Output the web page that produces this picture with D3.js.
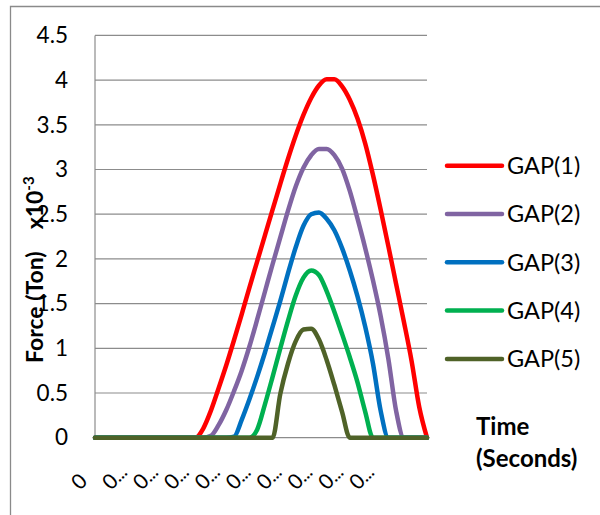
<!DOCTYPE html>
<html>
<head>
<meta charset="utf-8">
<script src="https://cdn.jsdelivr.net/npm/d3@7"></script>
<style>
  html, body { margin: 0; padding: 0; background: #fff; }
  svg { display: block; font-family: Lato, "Open Sans", sans-serif; }
</style>
</head>
<body>
<svg id="chart" width="600" height="515"></svg>
<script>
// Category labels along the time axis (shown every 4th sample)
const timeLabels = ["0", "0…", "0…", "0…", "0…", "0…", "0…", "0…", "0…", "0…"];
const labelStep = 4;

// Force readings (x10^-3 Ton) per time sample, one array per gap setting
const gap1 = [0,0,0,0,0,0,0,0,0,0,0,0,0,0,
  0.10,0.30,0.55,0.81,1.09,1.38,1.68,1.97,2.26,2.55,2.84,3.12,3.38,3.61,3.80,3.94,
  4.01,4.01,3.93,3.78,3.57,3.29,2.94,2.55,2.14,1.72,1.30,0.86,0.34,0];
const gap2 = [0,0,0,0,0,0,0,0,0,0,0,0,0,0,0,
  0.02,0.14,0.31,0.52,0.75,1.02,1.32,1.63,1.94,2.24,2.54,2.81,3.02,3.16,3.23,
  3.23,3.16,3.01,2.76,2.45,2.12,1.76,1.36,0.88,0.30,0,0,0,0];
const gap3 = [0,0,0,0,0,0,0,0,0,0,0,0,0,0,0,0,0,0,
  0.01,0.20,0.43,0.68,0.95,1.24,1.53,1.84,2.13,2.37,2.50,2.52,
  2.45,2.32,2.12,1.87,1.58,1.24,0.83,0.30,0,0,0,0,0,0];
const gap4 = [0,0,0,0,0,0,0,0,0,0,0,0,0,0,0,0,0,0,0,0,0,
  0.09,0.37,0.68,1.00,1.31,1.59,1.79,1.87,1.82,1.64,1.41,1.16,0.90,0.62,0.29,
  0,0,0,0,0,0,0,0];
const gap5 = [0,0,0,0,0,0,0,0,0,0,0,0,0,0,0,0,0,0,0,0,0,0,0,0,
  0.49,0.83,1.08,1.21,1.22,1.10,0.87,0.59,0.29,
  0,0,0,0,0,0,0,0,0,0,0];

const seriesNames = ["GAP(1)", "GAP(2)", "GAP(3)", "GAP(4)", "GAP(5)"];
const seriesColors = ["#ff0000", "#8064a2", "#0070c0", "#00b050", "#4f6228"];
const yTicks = [0, 0.5, 1, 1.5, 2, 2.5, 3, 3.5, 4, 4.5];

const series = [gap1, gap2, gap3, gap4, gap5].map((values, i) => ({
  name: seriesNames[i], color: seriesColors[i], values
}));

const svg = d3.select("#chart");

// chart frame
svg.append("path")
  .attr("d", "M10.5,520 V6.5 H610")
  .attr("fill", "none")
  .attr("stroke", "#8a8a8a")
  .attr("stroke-width", 1.3);

const plot = { left: 95, right: 427, top: 35.4, bottom: 437.7 };

const nPoints = gap1.length;
const x = d3.scaleLinear().domain([0, nPoints - 1]).range([plot.left, plot.right]);
const y = d3.scaleLinear().domain([0, 4.5]).range([plot.bottom, plot.top]);

// horizontal gridlines
svg.append("g")
  .selectAll("line")
  .data(yTicks)
  .join("line")
  .attr("x1", plot.left).attr("x2", plot.right)
  .attr("y1", d => y(d)).attr("y2", d => y(d))
  .attr("stroke", "#8c8c8c")
  .attr("stroke-width", 1.2);

// value axis line
svg.append("line")
  .attr("x1", plot.left).attr("x2", plot.left)
  .attr("y1", y(4.5)).attr("y2", y(0))
  .attr("stroke", "#8c8c8c")
  .attr("stroke-width", 1.2);

// value axis labels
const yAxis = d3.axisLeft(y).tickValues(yTicks).tickSize(0).tickPadding(27)
  .tickFormat(d3.format("~g"));
const yg = svg.append("g").attr("transform", `translate(${plot.left},0)`).call(yAxis);
yg.select(".domain").remove();
yg.selectAll("text")
  .attr("font-family", "Lato, 'Open Sans', sans-serif")
  .attr("font-size", 22.5)
  .attr("fill", "#000");

// category labels, rotated; the truncation mark is set smaller than the digit
const labelIdx = timeLabels.map((_, i) => i * labelStep);
const xLabels = svg.append("g")
  .selectAll("text")
  .data(labelIdx)
  .join("text")
  .attr("transform", d => `translate(${x(d) - 15},491) rotate(-45)`)
  .attr("text-anchor", "start")
  .attr("font-family", "Lato, 'Open Sans', sans-serif")
  .attr("font-size", 21)
  .attr("fill", "#000");
xLabels.append("tspan").text((d, i) => timeLabels[i].slice(0, 1));
xLabels.append("tspan")
  .attr("font-size", 16)
  .attr("font-weight", "bold")
  .text((d, i) => timeLabels[i].slice(1));

// series lines
const line = d3.line()
  .x((d, i) => x(i))
  .y(d => y(d))
  .curve(d3.curveMonotoneX);

svg.append("g")
  .selectAll("path")
  .data(series)
  .join("path")
  .attr("d", d => line(d.values))
  .attr("fill", "none")
  .attr("stroke", d => d.color)
  .attr("stroke-width", 4.5)
  .attr("stroke-linejoin", "round")
  .attr("stroke-linecap", "round");

// legend
const legend = svg.append("g")
  .selectAll("g")
  .data(series)
  .join("g")
  .attr("transform", (d, i) => `translate(447,${165.7 + i * 48.3})`);
legend.append("line")
  .attr("x1", 0).attr("x2", 55)
  .attr("stroke", d => d.color)
  .attr("stroke-width", 4.5)
  .attr("stroke-linecap", "round");
legend.append("text")
  .attr("x", 60)
  .attr("dy", "0.36em")
  .attr("font-size", 23.5)
  .attr("fill", "#000")
  .text(d => d.name);

// value axis title
const yTitle = svg.append("text")
  .attr("transform", "translate(43,363) rotate(-90)")
  .attr("font-size", 23)
  .attr("font-weight", "bold")
  .attr("fill", "#000");
yTitle.append("tspan").text("Force (Ton)");
yTitle.append("tspan").attr("dx", 22).text("x10");
yTitle.append("tspan").attr("dy", -9).attr("font-size", 15).text("-3");

// time axis title
const xTitle = svg.append("text")
  .attr("font-size", 24)
  .attr("font-weight", "bold")
  .attr("fill", "#000");
xTitle.append("tspan").attr("x", 476).attr("y", 435).text("Time");
xTitle.append("tspan").attr("x", 476).attr("y", 467).text("(Seconds)");
</script>
</body>
</html>
